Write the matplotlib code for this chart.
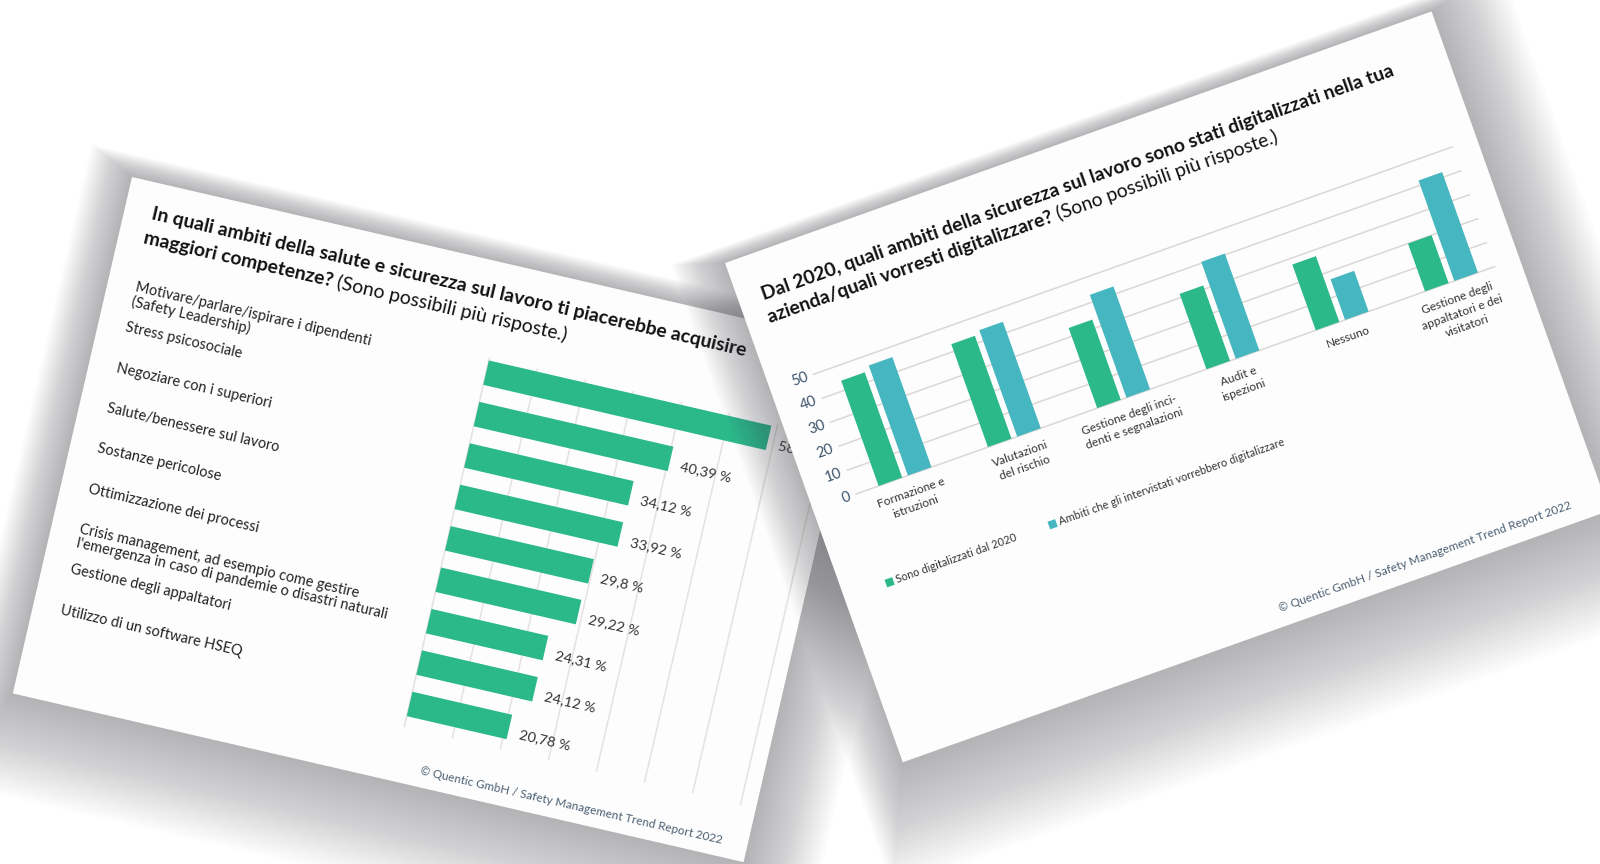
import numpy as np
import matplotlib.pyplot as plt
from matplotlib.patches import Polygon
from matplotlib.transforms import Affine2D

plt.rcParams['font.family'] = ['Lato', 'DejaVu Sans']

# left card: skills people would like to acquire (% of answers)
skills = [
    "Motivare/parlare/ispirare i dipendenti\n(Safety Leadership)",
    "Stress psicosociale",
    "Negoziare con i superiori",
    "Salute/benessere sul lavoro",
    "Sostanze pericolose",
    "Ottimizzazione dei processi",
    "Crisis management, ad esempio come gestire\nl'emergenza in caso di pandemie o disastri naturali",
    "Gestione degli appaltatori",
    "Utilizzo di un software HSEQ",
]
skill_share = [58.82, 40.39, 34.12, 33.92, 29.8, 29.22, 24.31, 24.12, 20.78]
share_grid = [0, 10, 20, 30, 40, 50, 60, 70]

# right card: digitalised areas
areas = [
    "Formazione e\nistruzioni",
    "Valutazioni\ndel rischio",
    "Gestione degli inci-\ndenti e segnalazioni",
    "Audit e\nispezioni",
    "Nessuno",
    "Gestione degli\nappaltatori e dei\nvisitatori",
]
digitalized = [44, 43, 33.5, 31.5, 27.5, 20]
wanted = [46, 44.5, 43, 40.5, 17, 42]
count_ticks = [0, 10, 20, 30, 40, 50]

left_title = "In quali ambiti della salute e sicurezza sul lavoro ti piacerebbe acquisire"
left_title2 = ("maggiori competenze?", "(Sono possibili più risposte.)")
right_title = "Dal 2020, quali ambiti della sicurezza sul lavoro sono stati digitalizzati nella tua"
right_title2 = ("azienda/quali vorresti digitalizzare?", "(Sono possibili più risposte.)")
legend_labels = ["Sono digitalizzati dal 2020", "Ambiti che gli intervistati vorrebbero digitalizzare"]
footer = "© Quentic GmbH / Safety Management Trend Report 2022"

W, H = 1600, 864
fig = plt.figure(figsize=(W / 100, H / 100), dpi=100)
fig.patch.set_facecolor('white')
renderer = fig.canvas.get_renderer()

GREEN, TEAL = '#2cb98a', '#46b6c1'
CW, CH = 750, 530
LEFT = (132, 177, 13.0)     # top-left corner (image px) and tilt
RIGHT = (725, 263, -19.6)


def to_img(card, u, v):
    x0, y0, th = card
    t = np.radians(th)
    return x0 + u * np.cos(t) - v * np.sin(t), y0 + u * np.sin(t) + v * np.cos(t)


def layer(z):
    a = fig.add_axes([0, 0, 1, 1], zorder=z)
    a.set_xlim(0, W)
    a.set_ylim(H, 0)
    a.axis('off')
    return a


def draw_card(a, card, dx, dy, spread, alpha):
    n = 30
    for k in range(n, 0, -1):
        g = spread * k / n
        pts = [to_img(card, u, v) for u, v in [(-g, -g), (CW + g, -g), (CW + g, CH + g), (-g, CH + g)]]
        pts = [(x + dx * k / n, y + dy * k / n) for x, y in pts]
        a.add_patch(Polygon(pts, closed=True, fc='#55555c', ec='none', alpha=alpha))
    pts = [to_img(card, u, v) for u, v in [(0, 0), (CW, 0), (CW, CH), (0, CH)]]
    a.add_patch(Polygon(pts, closed=True, fc='#fdfdfd', ec='none'))


def ctext(a, card, u, v, s, **kw):
    x, y = to_img(card, u, v)
    return a.text(x, y, s, rotation=-card[2], rotation_mode='anchor', **kw)


def width_px(s, **kw):
    t = fig.text(0, 0, s, **kw)
    w = t.get_window_extent(renderer).width
    t.remove()
    return w


def fit(s, target, **kw):
    return 10 * target / width_px(s, fontsize=10, **kw)


def chart_axes(card, u0, v0, u1, v1, z):
    x0, y0, th = card
    ax = fig.add_axes([(x0 + u0) / W, 1 - (y0 + v1) / H, (u1 - u0) / W, (v1 - v0) / H], zorder=z)
    ax.axis('off')
    return ax, Affine2D().rotate_deg_around(x0, H - y0, -th)


def tilt(ax, rot, th):
    for p in ax.patches:
        p.set_transform(ax.transData + rot)
        p.set_clip_on(False)
    for ln in ax.lines:
        ln.set_transform(ln.get_transform() + rot)
        ln.set_clip_on(False)
    for t in ax.texts:
        t.set_transform(t.get_transform() + rot)
        t.set_rotation(-th)
        t.set_rotation_mode('anchor')
        t.set_clip_on(False)


def two_part(a, card, u, v, parts, size):
    ctext(a, card, u, v, parts[0], fontsize=size, weight='bold', va='baseline', color='#111111')
    w = width_px(parts[0] + " ", fontsize=size, weight='bold')
    ctext(a, card, u + w, v, parts[1], fontsize=size, va='baseline', color='#111111')


# font sizes fitted to the widths measured on the reference
fs_title_l = fit(left_title, 612, weight='bold')
fs_title_r = fit(right_title, 670, weight='bold')
fs_label = fit("Motivare/parlare/ispirare i dipendenti", 243)
fs_value = fit("40,39 %", 52)
fs_footer = fit(footer, 309)
fs_cat = fit("Gestione degli inci-", 100)
fs_legend = fit(legend_labels[1], 238)

# ---------------- left card ----------------
bgL = layer(0)
draw_card(bgL, LEFT, 6, 42, 62, 0.014)
ctext(bgL, LEFT, 28, 37, left_title, fontsize=fs_title_l, weight='bold', va='baseline', color='#111111')
two_part(bgL, LEFT, 25, 62, left_title2, fs_title_l)
ctext(bgL, LEFT, 724, 514, footer, fontsize=fs_footer, ha='right', va='center', color='#4a5e72')

PX_PCT, U0 = 4.93, 389
axL, rotL = chart_axes(LEFT, U0, 96, U0 + 71 * PX_PCT, 474, 1)
rows = np.arange(len(skills))
axL.set_xlim(0, 71)
axL.set_ylim((474 - 111) / 42.5, (96 - 111) / 42.5)
for g in share_grid:
    axL.axvline(g, color='#e6e1dc', lw=1.1, zorder=0)
axL.barh(rows, skill_share, height=0.59, color=GREEN, zorder=2)
for r, val in zip(rows, skill_share):
    axL.text(val + 11 / PX_PCT, r + 0.12, f"{val:g}".replace('.', ',') + " %",
             ha='left', va='center', fontsize=fs_value, color='#333333')
for r, lab in zip(rows, skills):
    axL.text((28 - U0) / PX_PCT, r * 0.974 - 0.27, lab, ha='left', va='top',
             fontsize=fs_label, color='#222222', linespacing=1.05)
tilt(axL, rotL, LEFT[2])

# ---------------- right card ----------------
bgR = layer(2)
draw_card(bgR, RIGHT, 30, 42, 66, 0.015)
ctext(bgR, RIGHT, 24, 48, right_title, fontsize=fs_title_r, weight='bold', va='baseline', color='#111111')
two_part(bgR, RIGHT, 22, 72, right_title2, fs_title_r)
ctext(bgR, RIGHT, 716, 512, footer, fontsize=fs_footer, ha='right', va='center', color='#4a5e72')
for (u, col, lab) in [(44, GREEN, legend_labels[0]), (217, TEAL, legend_labels[1])]:
    sq = [to_img(RIGHT, uu, vv) for uu, vv in [(u, 352), (u + 8, 352), (u + 8, 360), (u, 360)]]
    bgR.add_patch(Polygon(sq, closed=True, fc=col, ec='none'))
    ctext(bgR, RIGHT, u + 11, 356, lab, fontsize=fs_legend, va='center', color='#333333')

PX_CAT, C0 = 116, 98
V0, PX_UNIT = 261.6, 2.54
axR, rotR = chart_axes(RIGHT, 46, V0 - 52 * PX_UNIT, 724, V0, 3)
axR.set_xlim((46 - C0) / PX_CAT, (724 - C0) / PX_CAT)
axR.set_ylim(0, 52)
for t in count_ticks:
    axR.axhline(t, color='#dcd7d2', lw=1.1, zorder=0)
    axR.text((40 - C0) / PX_CAT, t, str(t), ha='right', va='center', fontsize=10.5, color='#3b536b')
xs = np.arange(len(areas))
axR.bar(xs - 0.134, digitalized, width=0.216, color=GREEN, zorder=2)
axR.bar(xs + 0.134, wanted, width=0.216, color=TEAL, zorder=2)
for i, lab in enumerate(areas):
    axR.text(i, -12 / PX_UNIT, lab, ha='center', va='top', fontsize=fs_cat,
             color='#333333', linespacing=1.4, multialignment='center')
tilt(axR, rotR, RIGHT[2])

fig.savefig('out.png', dpi=100)
